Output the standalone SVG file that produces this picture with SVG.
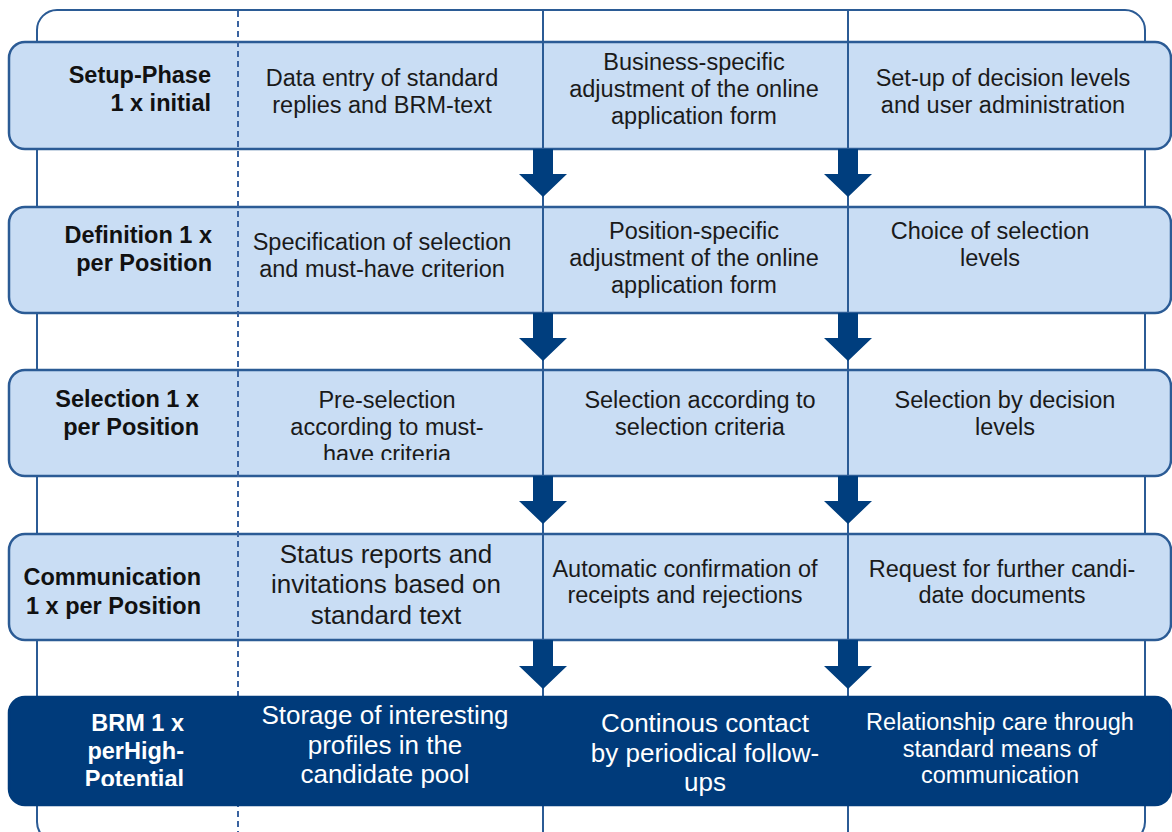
<svg xmlns="http://www.w3.org/2000/svg" width="1172" height="832" viewBox="0 0 1172 832">
<style>
.row{fill:#c9ddf4;stroke:#2b5b95;stroke-width:2.5}
.dark{fill:#003b7b;stroke:#003b7b;stroke-width:2.5}
.vl{stroke:#2b5b95;stroke-width:2;fill:none}
.dl{stroke:#3a63a0;stroke-width:2;stroke-dasharray:6 4;fill:none}
.arrow{fill:#003e7e}
text{font-family:"Liberation Sans",Arial,Helvetica,sans-serif}
.lbl{font-size:23.5px;font-weight:bold;fill:#111;text-anchor:end}
.lblw{font-size:23.5px;font-weight:bold;fill:#fff;text-anchor:end}
.t{font-size:23.5px;fill:#1a1a1a;text-anchor:middle}
.tb{font-size:26px;fill:#1a1a1a;text-anchor:middle}
.tw{font-size:26px;fill:#fff;text-anchor:middle}
.tws{font-size:23.5px;fill:#fff;text-anchor:middle}
</style>
<defs>
<clipPath id="clip3"><rect x="237" y="370" width="306" height="90"/></clipPath>
<clipPath id="clip5"><rect x="9" y="697" width="228" height="89"/></clipPath>
</defs>
<rect width="1172" height="832" fill="#ffffff"/>
<g id="frame">
<rect x="37" y="10" width="1108" height="832" rx="20" ry="20" fill="none" stroke="#2b5b95" stroke-width="2"/>
</g>
<g id="row-setup">
<rect class="row" x="9" y="42" width="1162" height="107" rx="16" ry="16"/>
</g>
<g id="row-definition">
<rect class="row" x="9" y="207" width="1162" height="106" rx="16" ry="16"/>
</g>
<g id="row-selection">
<rect class="row" x="9" y="370" width="1162" height="106" rx="16" ry="16"/>
</g>
<g id="row-communication">
<rect class="row" x="9" y="534" width="1162" height="106" rx="16" ry="16"/>
</g>
<g id="columns">
<line class="dl" x1="238" y1="11" x2="238" y2="832"/>
<line class="vl" x1="543" y1="11" x2="543" y2="832"/>
<line class="vl" x1="848" y1="11" x2="848" y2="832"/>
</g>
<g id="row-brm">
<rect class="dark" x="9" y="697" width="1162" height="108" rx="16" ry="16"/>
</g>
<g id="connectors">
<path class="arrow" d="M533,149 H553 V174 H567 L543,197 L519,174 H533 Z"/>
<path class="arrow" d="M838,149 H858 V174 H872 L848,197 L824,174 H838 Z"/>
<path class="arrow" d="M533,313 H553 V338 H567 L543,361 L519,338 H533 Z"/>
<path class="arrow" d="M838,313 H858 V338 H872 L848,361 L824,338 H838 Z"/>
<path class="arrow" d="M533,476 H553 V501 H567 L543,524 L519,501 H533 Z"/>
<path class="arrow" d="M838,476 H858 V501 H872 L848,524 L824,501 H838 Z"/>
<path class="arrow" d="M533,640 H553 V666 H567 L543,689 L519,666 H533 Z"/>
<path class="arrow" d="M838,640 H858 V666 H872 L848,689 L824,666 H838 Z"/>
</g>
<g id="setup-label"><text class="lbl" x="211" y="83">Setup-Phase</text><text class="lbl" x="211" y="111">1 x initial</text></g>
<g id="setup-c1"><text class="t" x="382" y="86">Data entry of standard</text><text class="t" x="382" y="113">replies and BRM-text</text></g>
<g id="setup-c2"><text class="t" x="694" y="70">Business-specific</text><text class="t" x="694" y="97">adjustment of the online</text><text class="t" x="694" y="124">application form</text></g>
<g id="setup-c3"><text class="t" x="1003" y="86">Set-up of decision levels</text><text class="t" x="1003" y="113">and user administration</text></g>

<g id="definition-label"><text class="lbl" x="212" y="243">Definition 1 x</text><text class="lbl" x="212" y="271">per Position</text></g>
<g id="definition-c1"><text class="t" x="382" y="250">Specification of selection</text><text class="t" x="382" y="277">and must-have criterion</text></g>
<g id="definition-c2"><text class="t" x="694" y="239">Position-specific</text><text class="t" x="694" y="266">adjustment of the online</text><text class="t" x="694" y="293">application form</text></g>
<g id="definition-c3"><text class="t" x="990" y="239">Choice of selection</text><text class="t" x="990" y="266">levels</text></g>

<g id="selection-label"><text class="lbl" x="199" y="407">Selection 1 x</text><text class="lbl" x="199" y="435">per Position</text></g>
<g id="selection-c1" clip-path="url(#clip3)"><text class="t" x="387" y="408">Pre-selection</text><text class="t" x="387" y="435">according to must-</text><text class="t" x="387" y="462">have criteria</text></g>
<g id="selection-c2"><text class="t" x="700" y="408">Selection according to</text><text class="t" x="700" y="435">selection criteria</text></g>
<g id="selection-c3"><text class="t" x="1005" y="408">Selection by decision</text><text class="t" x="1005" y="435">levels</text></g>

<g id="communication-label"><text class="lbl" x="201" y="585">Communication</text><text class="lbl" x="201" y="614">1 x per Position</text></g>
<g id="communication-c1"><text class="tb" x="386" y="563">Status reports and</text><text class="tb" x="386" y="593">invitations based on</text><text class="tb" x="386" y="624">standard text</text></g>
<g id="communication-c2"><text class="t" x="685" y="577">Automatic confirmation of</text><text class="t" x="685" y="603">receipts and rejections</text></g>
<g id="communication-c3"><text class="t" x="1002" y="577">Request for further candi-</text><text class="t" x="1002" y="603">date documents</text></g>

<g id="brm-label" clip-path="url(#clip5)"><text class="lblw" x="184" y="731">BRM 1 x</text><text class="lblw" x="184" y="759">perHigh-</text><text class="lblw" x="184" y="787">Potential</text></g>
<g id="brm-c1"><text class="tw" x="385" y="724">Storage of interesting</text><text class="tw" x="385" y="754">profiles in the</text><text class="tw" x="385" y="783">candidate pool</text></g>
<g id="brm-c2"><text class="tw" x="705" y="732">Continous contact</text><text class="tw" x="705" y="762">by periodical follow-</text><text class="tw" x="705" y="791">ups</text></g>
<g id="brm-c3"><text class="tws" x="1000" y="730">Relationship care through</text><text class="tws" x="1000" y="757">standard means of</text><text class="tws" x="1000" y="783">communication</text></g>
</svg>
